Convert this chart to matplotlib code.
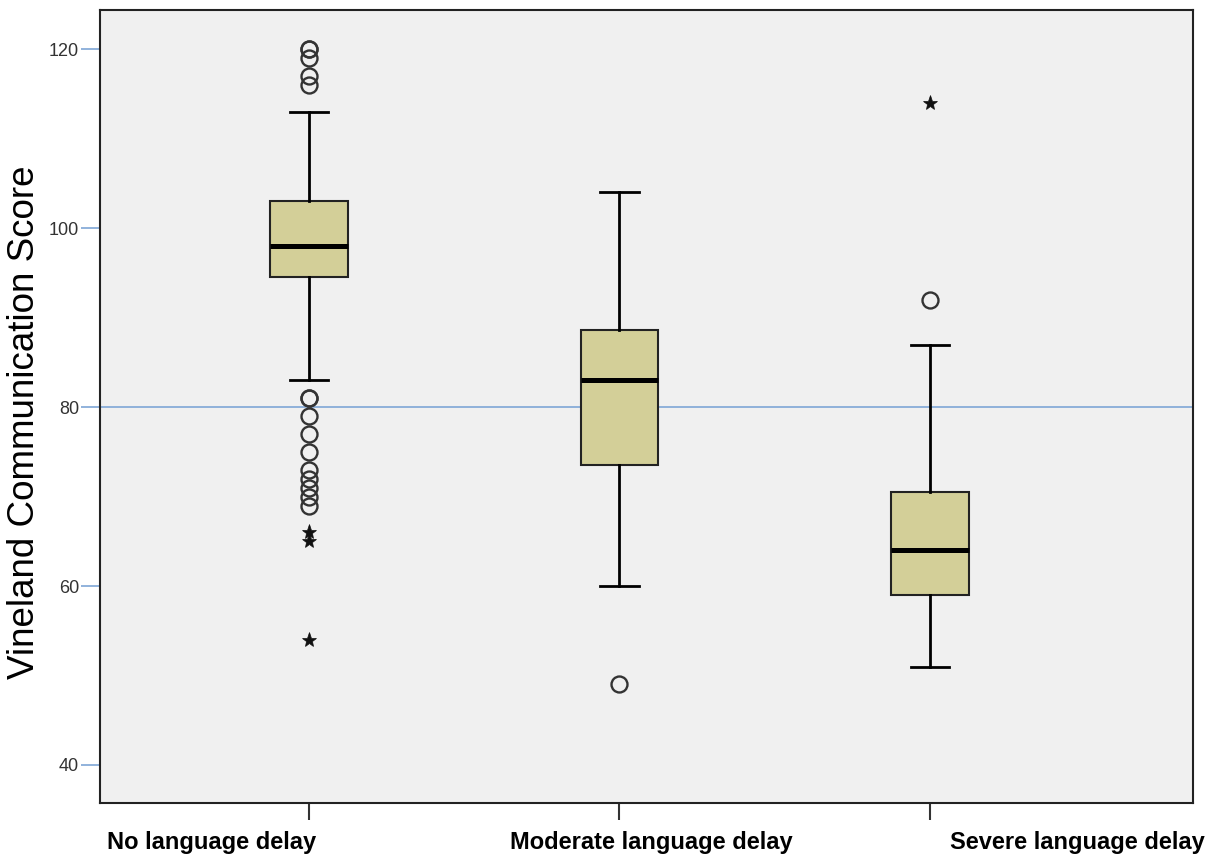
import numpy as np
import matplotlib
matplotlib.use("Agg")
import matplotlib.pyplot as plt

plt.rcParams['font.family'] = ['Liberation Sans', 'DejaVu Sans']

# data
groups = ["No language delay", "Moderate language delay", "Severe language delay"]
q1 = [94.5, 73.5, 59.0]
medians = [98.0, 83.0, 64.0]
q3 = [103.0, 88.6, 70.5]
whis_lo = [83.0, 60.0, 51.0]
whis_hi = [113.0, 104.0, 87.0]
# outliers (circles) and extremes (stars)
outliers = [
    [120, 120, 119, 117, 116, 81, 81, 79, 77, 75, 73, 72, 71, 70, 69],
    [49],
    [92],
]
extremes = [
    [66, 65, 54],
    [],
    [114],
]
ref_line = 80
yticks = [40, 60, 80, 100, 120]

BG = '#f0f0f0'
BOX = '#d3cf98'
REF = '#7ea6d6'

fig = plt.figure(figsize=(12.15, 8.58), dpi=100)
ax = fig.add_axes([100 / 1215, 55 / 858, 1093 / 1215, 793 / 858])
ax.set_facecolor(BG)

pos = np.arange(1, len(groups) + 1)
stats = []
for i in range(len(groups)):
    stats.append(dict(med=medians[i], q1=q1[i], q3=q3[i],
                      whislo=whis_lo[i], whishi=whis_hi[i], fliers=[]))

ax.axhline(ref_line, color=REF, lw=1.2, zorder=1)

ax.bxp(stats, positions=pos, widths=0.25, patch_artist=True, showfliers=False,
       boxprops=dict(facecolor=BOX, edgecolor='#222222', lw=1.5),
       medianprops=dict(color='black', lw=3.6),
       whiskerprops=dict(color='black', lw=2),
       capprops=dict(color='black', lw=2),
       capwidths=0.125, zorder=3)

for i in range(len(groups)):
    if outliers[i]:
        ax.plot([pos[i]] * len(outliers[i]), outliers[i], ls='none', marker='o',
                ms=11.5, mfc='none', mec='#333333', mew=1.7, zorder=4)
    if extremes[i]:
        ax.plot([pos[i]] * len(extremes[i]), extremes[i], ls='none', marker='*',
                ms=11, mfc='#111111', mec='#111111', mew=0.5, zorder=4)

ax.set_xlim(0.327, 3.847)
ax.set_ylim(35.75, 124.4)
ax.set_yticks(yticks)
ax.set_yticklabels([str(t) for t in yticks], fontsize=13, color='#333333')
ax.tick_params(axis='y', direction='out', length=14, width=1.2, color=REF, pad=1)
ax.set_xticks(pos)
ax.set_xticklabels([])
ax.tick_params(axis='x', direction='out', length=12, width=1.5, color='#333333')

for s in ax.spines.values():
    s.set_color('#222222')
    s.set_linewidth(1.5)

ax.set_ylabel("Vineland Communication Score", fontsize=26.5)
ax.yaxis.set_label_coords(-0.053, 0.48)

# category labels sit where they were put in the original
label_x = [212, 651, 1077]
for name, lx in zip(groups, label_x):
    fig.text(lx / 1215, 1 - 843 / 858, name, ha='center', va='center',
             fontsize=17, fontweight='bold')

fig.savefig('out.png', dpi=100, facecolor='white')
